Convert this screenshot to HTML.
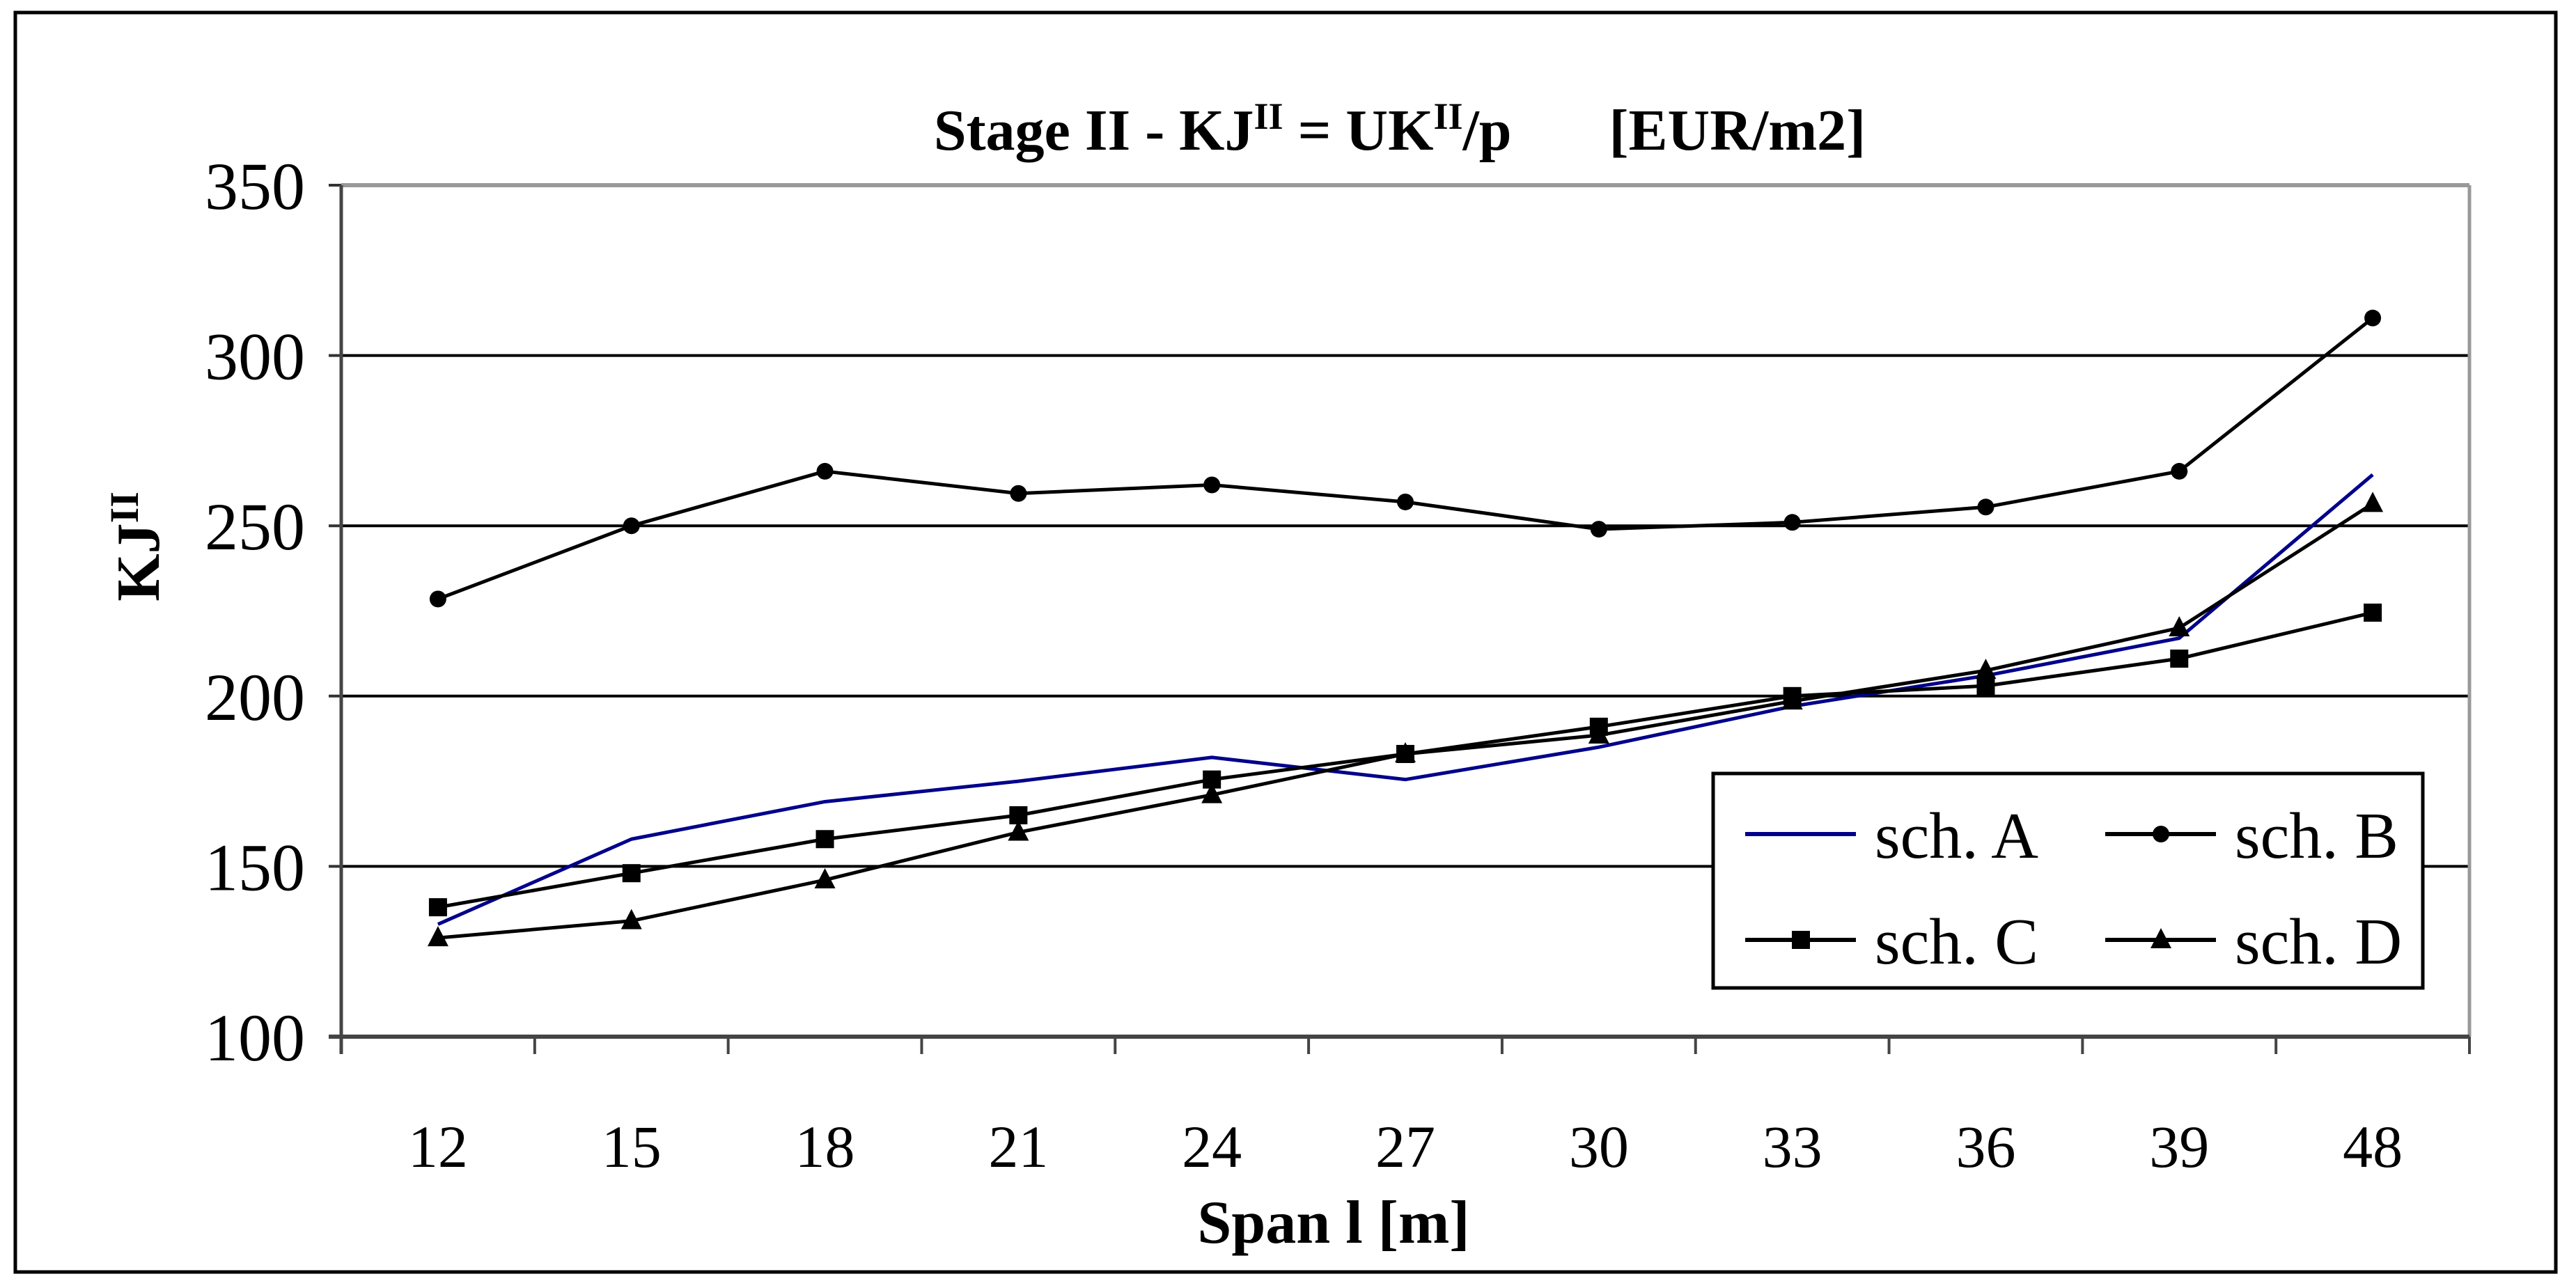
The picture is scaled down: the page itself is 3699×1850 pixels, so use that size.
<!DOCTYPE html>
<html><head><meta charset="utf-8"><style>
html,body{margin:0;padding:0;background:#fff;}
svg{display:block;font-family:"Liberation Serif",serif;}
</style></head><body>
<svg id="chart" width="3699" height="1850" viewBox="0 0 3699 1850">
<rect x="22" y="18" width="3648" height="1809" fill="#fff" stroke="#000" stroke-width="5"/>
<text x="2010" y="215" text-anchor="middle" font-size="84" font-weight="bold">Stage II - KJ<tspan font-size="54" dy="-30">II</tspan><tspan dy="30"> = UK</tspan><tspan font-size="54" dy="-30">II</tspan><tspan dy="30">/p</tspan><tspan dx="140">[EUR/m2]</tspan></text>
<g id="grid"></g>
<g id="axes"></g>
<g id="series"></g>
<text transform="translate(228,785) rotate(-90)" text-anchor="middle" font-size="88" font-weight="bold">KJ<tspan font-size="58" dy="-30">II</tspan></text>
<text x="1915" y="1785" text-anchor="middle" font-size="88" font-weight="bold">Span l [m]</text>
<g id="legend"></g>
</svg>
<script>
const categories = ["12","15","18","21","24","27","30","33","36","39","48"];
const yTicks = [100,150,200,250,300,350];
const schA = [133,158,169,175,182,175.5,185,197,206,217,265];
const schB = [228.5,250,266,259.5,262,257,249,251,255.5,266,311];
const schC = [138,148,158,165,175.5,183,191,200,203,211,224.5];
const schD = [129,134,146,160,171,183,188.5,198.5,207.5,220,256.5];

const NS="http://www.w3.org/2000/svg";
const L=490,R=3546,T=266,B=1489,yMin=100,yMax=350;
const step=(R-L)/categories.length;
function xPos(i){return L+(i+0.5)*step;}
function yPos(v){return B-(v-yMin)/(yMax-yMin)*(B-T);}
function mk(tag,attrs,parent){const e=document.createElementNS(NS,tag);for(const k in attrs)e.setAttribute(k,attrs[k]);parent.appendChild(e);return e;}

const grid=document.getElementById('grid'),axes=document.getElementById('axes'),ser=document.getElementById('series'),leg=document.getElementById('legend');
yTicks.forEach(v=>{
  const y=yPos(v);
  if(v>yMin&&v<yMax){const g=mk('line',{x1:L,x2:R,y1:y,y2:y,stroke:'#000','stroke-width':4},grid);
  
  }
  const tk=mk('line',{x1:L-18,x2:L,y1:y,y2:y,stroke:'#333','stroke-width':4},axes);
  
  
  const t=mk('text',{x:L-52,y:y+34,'text-anchor':'end','font-size':96},axes);
  t.textContent=v;
  
  
});
const tb=mk('line',{x1:L,x2:R,y1:T,y2:T,stroke:'#999','stroke-width':6},axes);


const rb=mk('line',{x1:R,x2:R,y1:T,y2:B,stroke:'#999','stroke-width':5},axes);


const ya=mk('line',{x1:L,x2:L,y1:T,y2:B+25,stroke:'#444','stroke-width':5},axes);


const xa=mk('line',{x1:L-18,x2:R,y1:B,y2:B,stroke:'#444','stroke-width':6},axes);


for(let i=0;i<=categories.length;i++){
  const x=L+i*step;
  const tk=mk('line',{x1:x,x2:x,y1:B,y2:B+25,stroke:'#444','stroke-width':4},axes);
  
  
}
categories.forEach((c,i)=>{
  const t=mk('text',{x:xPos(i),y:1676,'text-anchor':'middle','font-size':86},axes);
  t.textContent=c;
  
  
});

function marker(type,x,y,parent){
  let m;
  if(type==='circle')m=mk('circle',{cx:x,cy:y,r:12,fill:'#000'},parent);
  else if(type==='square')m=mk('rect',{x:x-13,y:y-13,width:26,height:26,fill:'#000'},parent);
  else if(type==='triangle')m=mk('polygon',{points:`${x},${y-17} ${x-15},${y+12} ${x+15},${y+12}`,fill:'#000'},parent);
  return m;
}
const seriesDefs=[
  {name:'sch. A',data:schA,color:'#00008b',mark:null,key:'a'},
  {name:'sch. B',data:schB,color:'#000',mark:'circle',key:'b'},
  {name:'sch. C',data:schC,color:'#000',mark:'square',key:'c'},
  {name:'sch. D',data:schD,color:'#000',mark:'triangle',key:'d'}
];
seriesDefs.forEach(s=>{
  const g=mk('g',{},ser);
  
  
  const pts=s.data.map((v,i)=>xPos(i)+','+yPos(v)).join(' ');
  const pl=mk('polyline',{points:pts,fill:'none',stroke:s.color,'stroke-width':5,'stroke-linejoin':'round'},g);
  
  
  if(s.mark)s.data.forEach((v,i)=>{
    const m=marker(s.mark,xPos(i),yPos(v),g);
    
    
  });
});

const lb=mk('rect',{x:2460,y:1111,width:1019,height:308,fill:'#fff',stroke:'#000','stroke-width':5},leg);


const lpos=[[2506,1198],[3023,1198],[2506,1350],[3023,1350]];
seriesDefs.forEach((s,k)=>{
  const [x,y]=lpos[k];
  const g=mk('g',{},leg);
  
  
  mk('line',{x1:x,x2:x+159,y1:y,y2:y,stroke:s.color,'stroke-width':6},g);
  if(s.mark)marker(s.mark,x+80,y,g);
  const t=mk('text',{x:x+186,y:y+34,'font-size':94},g);
  t.textContent=s.name;
  
  
});
</script>
</body></html>
